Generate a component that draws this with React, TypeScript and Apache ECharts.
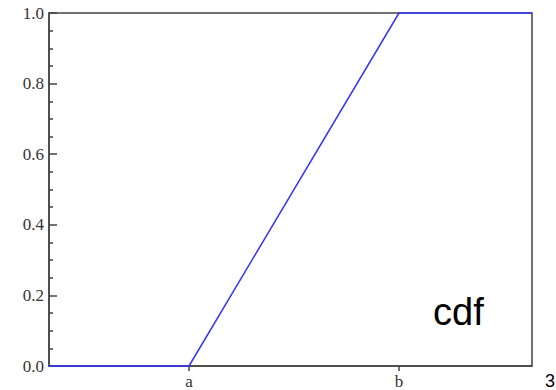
import React, { useEffect, useRef } from "react";
import * as echarts from "echarts";

const cdfPoints: [number, number][] = [
  [0, 0],
  [1, 0],
  [2.5, 1],
  [3.45, 1],
];
const xTickValues = [1, 2.5];
const xTickLabels = ["a", "b"];
const yTicks = [0, 0.2, 0.4, 0.6, 0.8, 1.0];
const cornerLabel = "3";
const curveLabel = "cdf";

export default function App() {
  const ref = useRef<HTMLDivElement>(null);
  useEffect(() => {
    if (!ref.current) return;
    const chart = echarts.init(ref.current, null, { renderer: "svg" });
    const serif = "'Liberation Serif', 'Times New Roman', serif";
    chart.setOption({
      animation: false,
      backgroundColor: "#fff",
      grid: {
        left: 49,
        top: 13,
        right: 24,
        bottom: 24,
        show: true,
        borderColor: "#444",
        borderWidth: 1.5,
      },
      xAxis: {
        type: "value",
        min: 0,
        max: 3.45,
        axisLine: { show: true, lineStyle: { color: "#444", width: 1.5 } },
        axisTick: {
          show: true,
          inside: false,
          length: 5,
          customValues: xTickValues,
          lineStyle: { color: "#444", width: 1.5 },
        },
        axisLabel: {
          customValues: xTickValues,
          formatter: (v: number) => xTickLabels[xTickValues.indexOf(v)] ?? "",
          fontFamily: serif,
          fontSize: 17,
          color: "#333",
          margin: 7,
        },
        splitLine: { show: false },
      },
      yAxis: {
        type: "value",
        min: yTicks[0],
        max: yTicks[yTicks.length - 1],
        interval: 0.2,
        axisLine: { show: true, lineStyle: { color: "#444", width: 1.5 } },
        axisTick: {
          show: true,
          inside: true,
          length: 8,
          lineStyle: { color: "#444", width: 1.5 },
        },
        minorTick: {
          show: true,
          splitNumber: 4,
          length: 4,
          lineStyle: { color: "#444", width: 1.5 },
        },
        axisLabel: {
          formatter: (v: number) => v.toFixed(1),
          fontFamily: serif,
          fontSize: 17,
          color: "#333",
          margin: 5,
          inside: false,
        },
        splitLine: { show: false },
      },
      graphic: [
        {
          type: "text",
          left: 433,
          top: 293,
          style: {
            text: curveLabel,
            fontFamily: "'Liberation Sans', Arial, sans-serif",
            fontSize: 38,
            fill: "#000",
          },
        },
        {
          type: "text",
          left: 545,
          top: 372,
          style: {
            text: cornerLabel,
            fontFamily: "'Liberation Sans', Arial, sans-serif",
            fontSize: 18,
            fill: "#000",
          },
        },
      ],
      series: [
        {
          type: "line",
          data: cdfPoints,
          symbol: "none",
          clip: false,
          lineStyle: { color: "#3535ff", width: 1.5 },
          z: 5,
        },
      ],
    });
    return () => chart.dispose();
  }, []);
  return (
    <div
      ref={ref}
      style={{ position: "fixed", left: 0, top: 0, width: 556, height: 390 }}
    />
  );
}
